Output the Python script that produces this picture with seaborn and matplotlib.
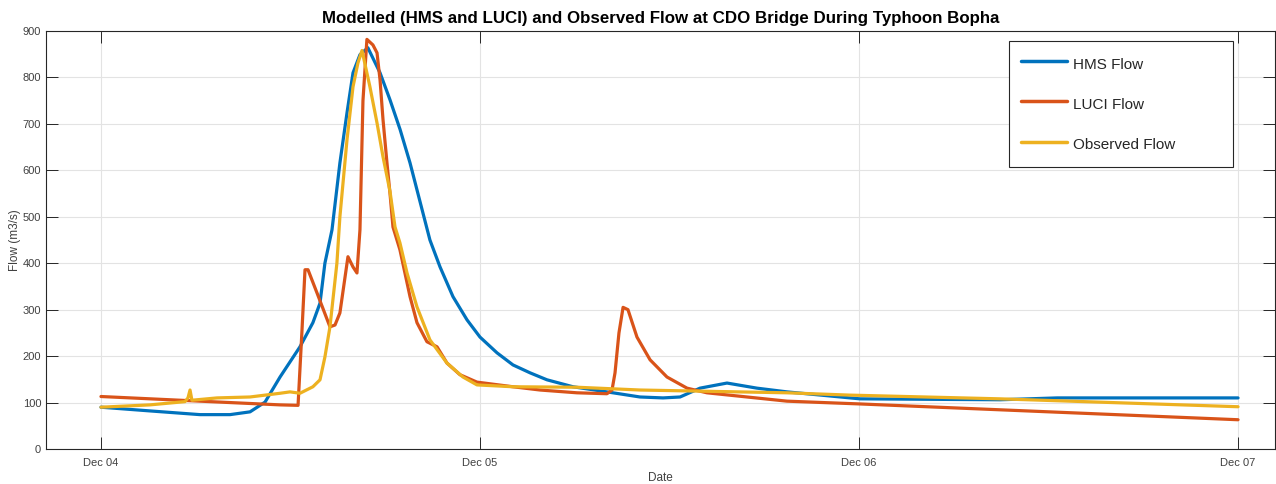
import matplotlib
matplotlib.use("Agg")
import matplotlib.pyplot as plt
import seaborn as sns
import pandas as pd

# ---- data (hours after Dec 04 00:00, flow in m3/s) ----
hms_hours = [0, 3.1, 6.27, 8.17, 9.44, 10.39, 11.34, 12.6, 13.42, 13.87, 14.18, 14.63,
             15.13, 15.58, 15.96, 16.4, 16.9, 17.67, 18.3, 18.94, 19.57, 20.2, 20.83,
             21.47, 22.29, 23.18, 24.0, 25.08, 26.09, 27.17, 28.24, 29.89, 32.04,
             34.13, 35.59, 36.67, 37.93, 39.64, 41.54, 43.44, 48.06, 56.93, 60.54, 72]
hms_flow = [90, 82, 74, 74, 80, 101, 155, 220, 272, 314, 400, 472,
            616, 724, 810, 849, 864, 810, 752, 688, 616, 533, 450,
            392, 328, 278, 241, 207, 181, 164, 149, 134, 123,
            112, 110, 112, 131, 142, 131, 123, 108, 106, 110, 110]

luci_hours = [0, 6.27, 11.34, 12.48, 12.73, 12.92, 13.11, 13.68, 14.5, 14.82, 15.13,
              15.64, 15.96, 16.21, 16.4, 16.59, 16.84, 17.22, 17.48, 17.67, 17.86,
              18.11, 18.3, 18.49, 18.93, 19.57, 20.01, 20.64, 21.28, 21.91, 22.73,
              23.81, 26.09, 27.8, 30.14, 32.04, 32.36, 32.55, 32.8, 33.06, 33.37,
              33.94, 34.77, 35.84, 37.11, 38.37, 43.44, 48.06, 72]
luci_flow = [113, 103, 95, 94, 256, 386, 386, 336, 263, 267, 293,
             414, 392, 379, 472, 750, 882, 870, 853, 795, 709,
             616, 551, 478, 429, 328, 272, 231, 220, 185, 160,
             144, 134, 127, 121, 119, 127, 164, 250, 305, 300,
             241, 192, 155, 131, 121, 103, 97, 63]

obs_hours = [0, 3.1, 5.32, 5.51, 5.64, 5.76, 7.35, 9.44, 11.34, 11.97, 12.6, 13.42,
             13.87, 14.18, 14.5, 14.94, 15.13, 15.58, 15.96, 16.27, 16.53, 17.03,
             17.48, 17.86, 18.3, 18.62, 18.93, 19.38, 20.01, 20.83, 21.91, 22.92,
             23.81, 26.09, 30.14, 34.13, 43.44, 47.43, 56.93, 72]
obs_flow = [90, 95, 102, 110, 127, 105, 110, 112, 120, 123, 120, 134,
            149, 198, 263, 400, 500, 666, 780, 831, 858, 780,
            702, 629, 555, 478, 444, 379, 306, 235, 185, 155,
            138, 134, 133, 127, 121, 116, 108, 91]

series_names = ["HMS Flow", "LUCI Flow", "Observed Flow"]
tick_hours = [0, 24, 48, 72]
tick_labels = ["Dec 04", "Dec 05", "Dec 06", "Dec 07"]
y_ticks = list(range(0, 901, 100))

colors = ["#0072BD", "#D95319", "#EDB120"]

df = pd.concat([
    pd.DataFrame({"hours": hms_hours, "flow": hms_flow, "series": series_names[0]}),
    pd.DataFrame({"hours": luci_hours, "flow": luci_flow, "series": series_names[1]}),
    pd.DataFrame({"hours": obs_hours, "flow": obs_flow, "series": series_names[2]}),
], ignore_index=True)

sns.set_theme(style="white")
plt.rcParams["font.family"] = ["Liberation Sans", "DejaVu Sans"]

fig = plt.figure(figsize=(12.76, 4.84), dpi=100)
ax = fig.add_axes([46 / 1276, 35 / 484, (1275 - 46) / 1276, 418 / 484])

sns.lineplot(data=df, x="hours", y="flow", hue="series", palette=colors,
             estimator=None, sort=True, linewidth=2.3, ax=ax)

ax.set_xlim(-3.48, 74.34)
ax.set_ylim(0, 900)
ax.set_xticks(tick_hours)
ax.set_xticklabels(tick_labels)
ax.set_yticks(y_ticks)

ax.grid(True, color="#e3e3e3", linewidth=0.8)
ax.set_axisbelow(True)
for s in ax.spines.values():
    s.set_visible(True)
    s.set_color("#262626")
    s.set_linewidth(0.8)

ax.tick_params(direction="in", length=8.5, width=0.7, color="#262626",
               labelsize=8, labelcolor="#404040", top=True, right=True,
               bottom=True, left=True)
ax.tick_params(axis="x", pad=6.5)
ax.tick_params(axis="y", pad=3.5)

ax.set_xlabel("Date", fontsize=8.5, color="#404040", labelpad=3)
ax.set_ylabel("Flow (m3/s)", fontsize=8.5, color="#404040", labelpad=1)
ax.set_title("Modelled (HMS and LUCI) and Observed Flow at CDO Bridge During Typhoon Bopha",
             fontsize=12.2, fontweight="bold", color="#000000", pad=6)

leg = ax.legend(loc="upper left", bbox_to_anchor=(0.7836, 0.0, 0.1823, 0.976),
                mode="expand", borderaxespad=0,
                fontsize=11, frameon=True, fancybox=False, framealpha=1,
                edgecolor="#262626", handlelength=3.0, handleheight=1.73,
                labelspacing=1.27, borderpad=0.8, handletextpad=0.4, title=None)
leg.get_frame().set_linewidth(0.8)
for line in leg.get_lines():
    line.set_linewidth(2.5)
for t in leg.get_texts():
    t.set_color("#262626")

fig.savefig("out.png", dpi=100, facecolor="white")
